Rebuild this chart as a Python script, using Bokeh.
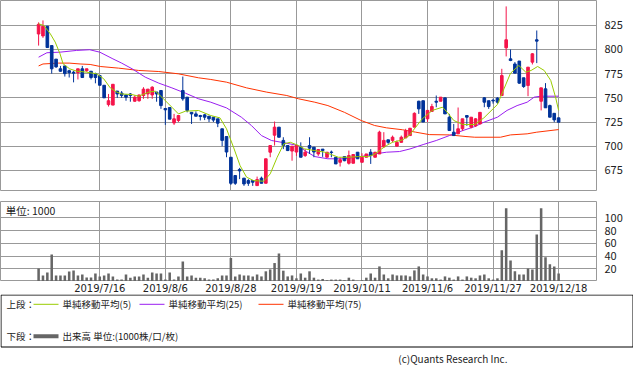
from bokeh.plotting import figure
from bokeh.layouts import column
from bokeh.models import Range1d, FixedTicker, Label, ColumnDataSource
from bokeh.embed import file_html
from bokeh.resources import INLINE
from bokeh.core.properties import value

# ---------------- data ----------------
open_ = [816, 814, 824, 804, 790, 780, 783, 778, 776.5, 776, 780, 778, 777.5, 775, 773, 763, 743, 742.5, 757, 755,
         753, 754, 746.5, 747, 752.4, 754, 753, 756, 757.6, 739, 740, 724, 726.6, 757.6, 750.7, 735, 733.4, 731.7, 732.4, 731,
         730, 728.3, 718, 710, 688.6, 669.7, 676, 667, 664.5, 664.5, 659.3, 667, 661.7, 693.8, 711.4, 719.7, 706, 700.7, 695, 694,
         699, 690.3, 700.7, 699, 692, 697, 688.6, 694, 688.6, 683.4, 689.3, 682.4, 682.4, 693.8, 683.4, 688.6, 693.8, 688.6, 692, 699.3,
         706.6, 706, 700, 704, 708.6, 711, 719.7, 746.5, 747, 728.3, 736, 746.5, 746.5, 750, 730, 714.5, 712.8, 718, 731.7, 719.7,
         721, 723, 750, 747, 747.5, 749.7, 752.4, 801.7, 790.3, 785, 788, 770.7, 762.8, 786.9, 810, 746.5, 759.3, 742, 734, 729.3]
high = [828, 830, 824, 804, 790, 783, 783, 779, 778, 780, 783, 780, 777.5, 776, 773, 763, 754, 764, 757, 757,
        753, 755, 752.4, 753, 761, 759, 762, 756, 757.6, 739, 740, 733.4, 731.7, 772, 750.7, 735, 736, 732.4, 733.4, 731,
        730, 728.3, 718, 710, 688.6, 669.7, 677.6, 667, 666, 664.5, 668.6, 668.6, 687, 700.7, 725.5, 719.7, 709.3, 700.7, 700, 700.7,
        704, 697, 709.3, 699, 696.6, 697, 693.8, 695.5, 688.6, 688.6, 689.3, 695.5, 691.4, 693.8, 692.7, 692, 697, 693.8, 716, 714.5,
        706.6, 711, 706, 711, 718, 718.6, 735, 747, 747, 737, 743.8, 752.4, 750.7, 750, 733.4, 723, 740, 728.3, 731.7, 730,
        729, 735, 750.7, 747, 749, 750.7, 780, 844.5, 800, 787, 788, 770.7, 781.7, 796.2, 819.6, 760.3, 765.2, 743, 734, 729.3]
low = [804, 812, 802, 775, 781, 777, 772, 771, 766, 769, 771, 777, 769, 765, 763, 750, 741, 742.5, 750, 750,
       747, 746, 746, 746, 749, 749, 749, 746, 738.6, 722, 728, 722, 725, 747, 735, 723, 731, 726.6, 727, 725,
       725, 719.7, 700, 688.6, 660, 660, 666, 659, 659, 659, 659.3, 661.7, 661.7, 688.6, 700.7, 709.3, 697, 695, 685, 690,
       688.6, 689, 692, 688.6, 690, 689, 688.6, 688.6, 681.7, 679, 684.5, 681, 682.4, 687, 683.4, 688.6, 681.7, 688.6, 692, 699.3,
       702.4, 704, 700, 704, 708.6, 711, 719.7, 733.4, 725, 725, 736, 740.3, 746.5, 733.4, 716.2, 711, 712.8, 716, 721, 718.5,
       720, 723, 740.3, 738.6, 744, 743.8, 752.4, 792.8, 787.9, 775.5, 764.5, 760.3, 751.7, 784.5, 785.9, 737, 739.7, 730, 724.8, 724.8]
close = [826, 824, 802, 780, 782, 777.5, 775, 776, 775.5, 780, 771, 780, 771, 771, 763, 750, 747, 764, 754, 752.5,
         750.7, 752.4, 750.7, 753, 759, 759, 761, 754, 742, 737.6, 728, 728.3, 731.7, 749, 737, 733.4, 731, 730.7, 730, 728.3,
         727, 723.8, 706, 694, 661.7, 661.7, 674.5, 661, 661.7, 662.8, 665.5, 661.7, 687, 700.7, 719.7, 709.3, 700.7, 695.5, 700, 700.7,
         688.6, 693.8, 698, 694, 696.6, 695.5, 693.8, 693.5, 681.7, 685.9, 685, 690.3, 691.4, 687, 688.6, 692, 690.3, 693.8, 714.5, 706,
         704, 709.3, 704, 709.3, 716, 718.6, 734, 738.6, 725, 737, 741, 745.5, 750.7, 733.4, 716.2, 711, 718, 728.3, 730, 730,
         728.3, 735, 745.5, 741, 746.8, 745.5, 773, 810, 788.6, 775.5, 765.2, 761.7, 781.7, 795.5, 808.6, 760.3, 739.7, 730, 727.2, 724.8]
volume = [20.5, 9.5, 14, 42.6, 9.5, 9.5, 9.5, 15.8, 17.4, 9.5, 11, 6.3, 6.3, 12.6, 8, 9.5, 12.6, 8, 3, 3,
          11, 6, 8, 8, 11, 6, 14, 12.6, 12.6, 3, 14, 3, 8, 31.6, 8, 9.5, 6, 6, 5, 3,
          3, 5, 9.5, 9.5, 37, 8, 11, 9.5, 9.5, 8, 11, 8, 16, 19, 29, 44, 17, 8, 9.5, 5,
          12.6, 6, 16, 6, 3, 4, 2, 3, 3, 3, 2, 6, 3, 1, 2, 6, 12.6, 6, 23.7, 11,
          5, 11, 9.5, 9.5, 9.5, 8, 17.4, 23.7, 11, 8, 5, 5, 3, 8, 6, 3, 8, 3, 8, 6,
          5, 9.5, 11, 5, 3, 5, 49, 115, 33, 16, 11, 11, 20.5, 19, 74, 115, 38, 27, 23.7, 12.6]

# moving averages, read at points along each line (x = trading-day index)
ma5_x = [0, 1.2, 2.7, 3.8, 4.9, 5.6, 7.1, 8.7, 11, 13.3, 14.9, 16.4, 17.9, 19, 21.4, 22.9, 25.2, 26.7, 28.2, 30.5,
         32, 33.6, 36.6, 39.4, 41.5, 43, 44.6, 46.1, 47.6, 49.2, 51.5, 53, 54.6, 56.1, 57.6, 59.5, 60.9, 63.2, 65.5, 67,
         68.6, 70.9, 73.2, 75.5, 77, 78.5, 79.6, 81, 83.3, 84.8, 86.3, 87.8, 90.1, 92.4, 93.5, 95, 97.1, 99.8, 101.9, 105,
         106.5, 108, 109.9, 111.5, 112.7, 114.2, 115.7, 117.2, 118.3, 119]
ma5_y = [826.5, 824.8, 816, 807.6, 795.5, 785.2, 780, 777.6, 776.5, 774.8, 769.7, 760.3, 755.9, 754, 753.4, 751.7, 755.9, 756.9, 750.7, 740.3,
         733.4, 736.2, 736.9, 731.7, 729.3, 718, 699, 680, 668, 664.5, 663.8, 671.4, 688.6, 702.4, 704.1, 700.7, 697.2, 695.5, 693.8, 691.4,
         688.6, 688.6, 689.3, 689.3, 692, 697.2, 700.7, 704.1, 706.6, 711, 719.7, 728.3, 737, 740.3, 735.2, 726.6, 722.4, 722.4, 729.3, 743.1,
         759.3, 775.5, 783.4, 776.5, 778.3, 782.4, 778.3, 768, 750.7, 737]
ma25_x = [0, 1.9, 4.9, 8.7, 11.7, 14, 17, 19, 21.4, 24.4, 27.5, 30.5, 33.6, 36.6, 39.4, 43, 46.4, 48.7, 51, 53.3,
          56.4, 59.4, 60.9, 63.2, 66.2, 70, 73.8, 76.9, 79.6, 82.6, 85, 88, 91, 94, 97.1, 99.8, 101.9, 105, 107.2, 109.5,
          111.8, 113.4, 114.9, 119]
ma25_y = [792, 796.6, 797.2, 799, 799.7, 797.2, 790.3, 785.9, 780, 771.4, 765.2, 760.3, 754.8, 749, 745.5, 739.6, 730, 721.4, 711, 705.9,
          703.4, 700.7, 695.5, 689.3, 687, 687, 689.3, 692, 693.8, 694.5, 697.2, 701.7, 705.9, 711, 716.2, 720.3, 724.8, 730, 737, 742,
          745.5, 750.7, 751.7, 751.7]
ma75_x = [0, 1, 4.5, 7, 9.5, 11.8, 14.1, 18.3, 22.9, 27.5, 32, 36.6, 39.4, 43, 47.6, 52.2, 56.8, 59.5, 63.2, 66.2,
          70, 73.8, 76.9, 79.6, 83.3, 86.3, 89.4, 94, 97.8, 99.8, 105.7, 108, 111.8, 114, 119]
ma75_y = [783, 785, 785.9, 785.9, 785, 784.5, 782.4, 780.7, 778.3, 777.2, 774.8, 770.7, 769, 766.2, 760.3, 755.9, 752.4, 749, 745.5, 742,
          735, 726.6, 721.4, 719, 717, 714.5, 712, 711.7, 710, 709.3, 709.3, 711.7, 712.8, 714.5, 717.2]

tick_idx = [14, 29, 44, 59, 74, 89, 104, 119]
tick_labels = ["2019/7/16", "2019/8/6", "2019/8/28", "2019/9/19", "2019/10/11", "2019/11/6", "2019/11/27", "2019/12/18"]
price_ticks = [675, 700, 725, 750, 775, 800, 825]
vol_ticks = [20, 40, 60, 80, 100]

legend_ma = ["単純移動平均(5)", "単純移動平均(25)", "単純移動平均(75)"]
legend_vol = "出来高 単位:(1000株/口/枚)"
unit_text = "単位: 1000"
copyright_text = "(c)Quants Research Inc."

# ---------------- styles ----------------
UP = "#f5144a"
DOWN = "#003399"
C_MA5 = "#99cc00"
C_MA25 = "#9a1ef0"
C_MA75 = "#ff3300"
C_VOL = "#666666"
GRID = "#999999"
FONT = "Noto Sans CJK JP"
DATE_FONT = "DejaVu Sans"
TXT = "#222222"

FW = 596            # frame width of the chart panels
RB = 37             # right border (axis labels)
X_START, X_END = -8.72, 127.67

n = len(close)
xs = list(range(n))
colors = [UP if c >= o else DOWN for o, c in zip(open_, close)]
src = ColumnDataSource(dict(
    x=xs, o=open_, h=high, l=low, c=close,
    top=[max(o, c) for o, c in zip(open_, close)],
    bottom=[min(o, c) for o, c in zip(open_, close)],
    color=colors, vol=volume))

xr = Range1d(X_START, X_END)


def base_fig(**kw):
    p = figure(title=None, output_backend="svg", toolbar_location=None, **kw)
    p.background_fill_color = None
    p.border_fill_color = None
    return p


def style_panel(p):
    p.outline_line_color = GRID
    p.outline_line_width = 1
    for g in (p.xgrid, p.ygrid):
        g.grid_line_color = GRID
        g.grid_line_width = 1
    a = p.yaxis[0]
    a.axis_line_color = None
    a.major_tick_line_color = None
    a.minor_tick_line_color = None
    a.major_label_standoff = 2
    a.major_label_text_font = FONT
    a.major_label_text_font_size = "11px"
    a.major_label_text_color = TXT


# ---------------- price panel ----------------
p1 = base_fig(frame_width=FW, frame_height=191, x_range=xr, y_range=Range1d(653.2, 850.6),
              x_axis_location=None, y_axis_location="right",
              min_border_left=0, min_border_right=RB, min_border_top=0, min_border_bottom=0)
p1.yaxis.ticker = FixedTicker(ticks=price_ticks)
p1.xgrid.ticker = FixedTicker(ticks=tick_idx)
style_panel(p1)

p1.line(ma75_x, ma75_y, line_color=C_MA75, line_width=1)
p1.line(ma25_x, ma25_y, line_color=C_MA25, line_width=1)
p1.segment(x0="x", y0="l", x1="x", y1="h", line_color="color", line_width=1, source=src)
p1.vbar(x="x", top="top", bottom="bottom", width=0.6, fill_color="color", line_color="color",
        line_width=1, source=src)
p1.line(ma5_x, ma5_y, line_color=C_MA5, line_width=1)

# ---------------- volume panel ----------------
p2 = base_fig(frame_width=FW, frame_height=80, x_range=xr, y_range=Range1d(0, 125.7),
              x_axis_location=None, y_axis_location="right",
              min_border_left=0, min_border_right=RB, min_border_top=10, min_border_bottom=0)
p2.yaxis.ticker = FixedTicker(ticks=vol_ticks)
p2.xgrid.ticker = FixedTicker(ticks=tick_idx)
style_panel(p2)
p2.vbar(x="x", top="vol", bottom=0, width=0.58, fill_color=C_VOL, line_color=None, source=src)
p2.add_layout(Label(x=X_START + 1.2, y=125.7 - 2.5, text=unit_text, text_baseline="top",
                    text_font=FONT, text_font_size="10.5px", text_color=TXT))

# ---------------- date labels strip (same x scale) ----------------
p3 = base_fig(frame_width=FW, frame_height=13, x_range=xr, y_range=Range1d(0, 13),
              x_axis_location=None, y_axis_location=None,
              min_border_left=0, min_border_right=RB, min_border_top=0, min_border_bottom=0)
p3.outline_line_color = None
p3.grid.visible = False
p3.text(x=tick_idx, y=[6.3] * len(tick_idx), text=tick_labels,
        text_align="center", text_baseline="middle", text_font=value(DATE_FONT),
        text_font_size="10px", text_color=TXT)

# ---------------- legend panel (separate root, full page width) ----------------
W4, H4 = 633, 75
p4 = base_fig(width=W4, height=H4, x_range=Range1d(0, W4), y_range=Range1d(H4, 0),
              x_axis_location=None, y_axis_location=None, min_border=0)
p4.outline_line_color = None
p4.grid.visible = False
p4.quad(left=0.5, right=W4 - 0.5, top=0.5, bottom=52.5, fill_color="white", line_color="black", line_width=1)

row1, row2 = 9.8, 41.8


def lab(x, y, t, size="9.5px", align="left"):
    p4.add_layout(Label(x=x, y=y, text=t, text_baseline="middle", text_align=align,
                        text_font=FONT, text_font_size=size, text_color=TXT))


lab(6, row1, "上段：")
for (x0, c, t) in [(33, C_MA5, legend_ma[0]), (139, C_MA25, legend_ma[1]), (258, C_MA75, legend_ma[2])]:
    p4.segment(x0=[x0], y0=[row1], x1=[x0 + 25], y1=[row1], line_color=c, line_width=1)
    lab(x0 + 29, row1, t)
lab(6, row2, "下段：")
p4.segment(x0=[33], y0=[row2], x1=[58], y1=[row2], line_color=C_VOL, line_width=4)
lab(62, row2, legend_vol)
lab(507, 64, copyright_text, size="10px", align="right")

charts = column(p1, p2, p3, spacing=0)
open("out.html", "w").write(file_html([charts, p4], INLINE))
